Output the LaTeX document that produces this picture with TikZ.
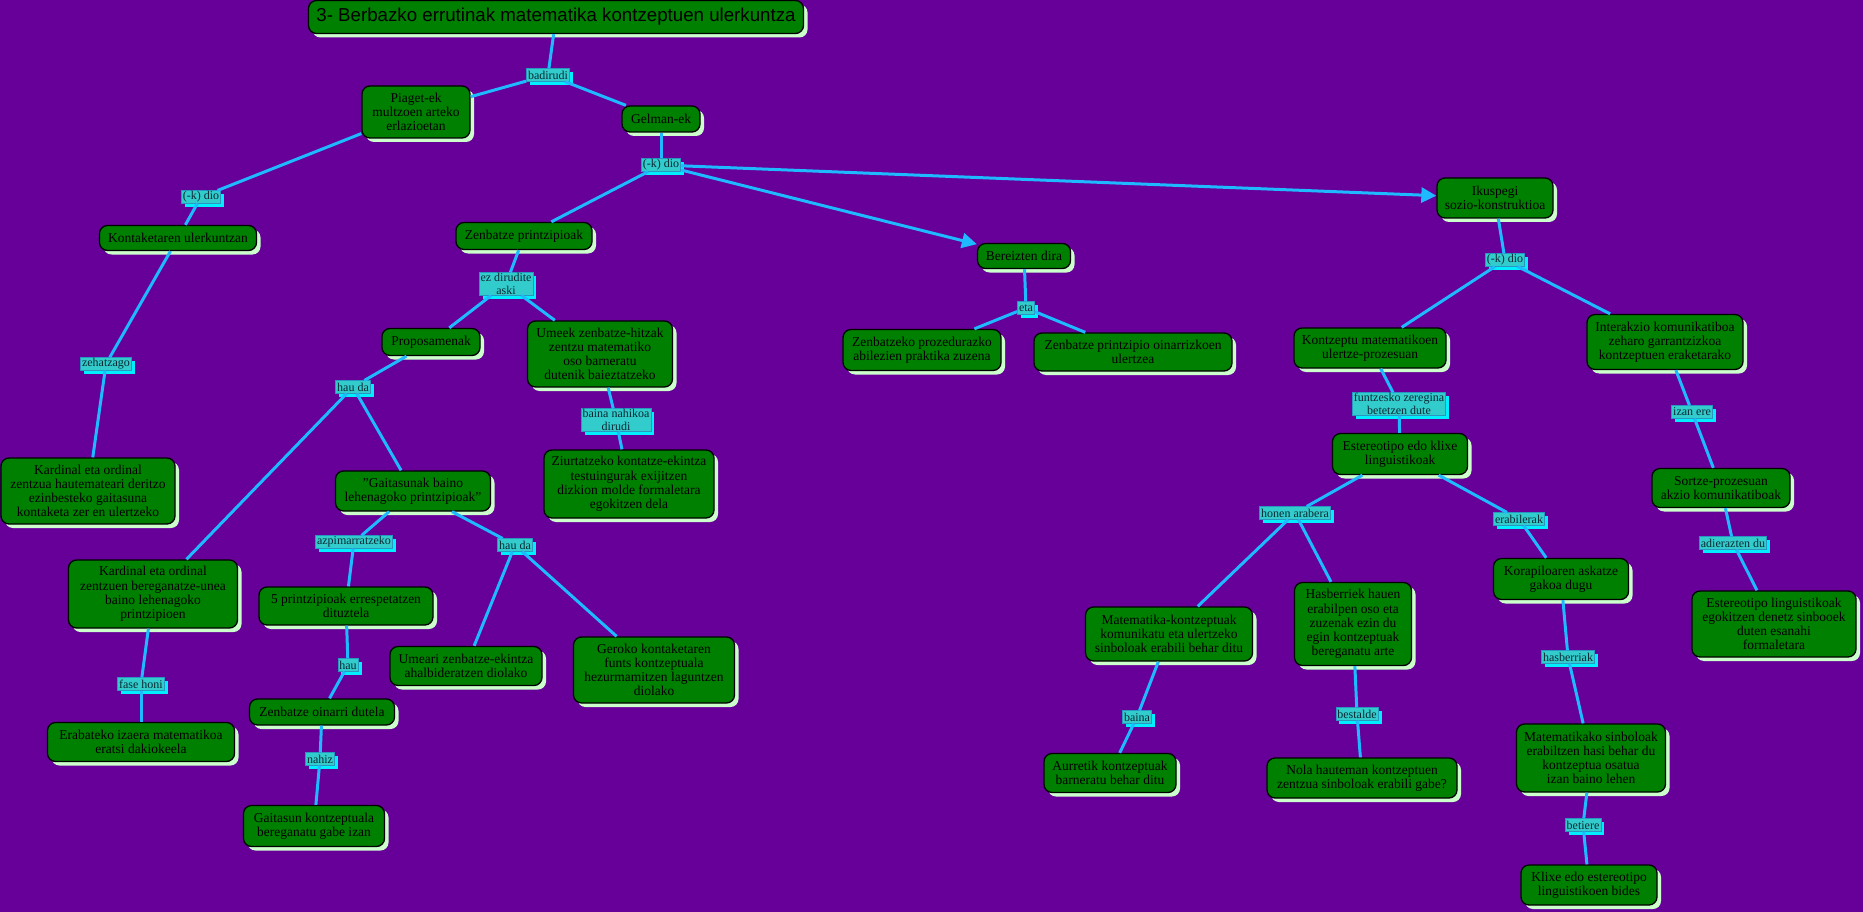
\documentclass[tikz,border=0pt]{standalone}
\usepackage{fontspec}
\setmainfont{Liberation Serif}
\setsansfont{Liberation Sans}
\usepackage{tikz}
\usetikzlibrary{arrows.meta}
\usetikzlibrary{shadows}
\definecolor{bgpurple}{RGB}{102,0,153}
\definecolor{boxgreen}{RGB}{0,128,0}
\definecolor{boxshadow}{RGB}{204,255,204}
\definecolor{labelfill}{RGB}{51,204,204}
\definecolor{labelshadow}{RGB}{0,238,255}
\definecolor{labelborder}{RGB}{40,150,190}
\definecolor{labeltext}{RGB}{10,40,50}
\definecolor{linkblue}{RGB}{30,185,255}

\begin{document}
\begin{tikzpicture}[
    x=1pt, y=-1pt,
    concept box/.style={draw=black, line width=1.3pt, fill=boxgreen, rounded corners=8pt,
        align=center, inner sep=2pt, text=black, font=\fontsize{13.5}{14.2}\selectfont,
        general shadow={fill=boxshadow, shadow xshift=4pt, shadow yshift=-4pt}},
    title box/.style={concept box, font=\sffamily\fontsize{18.7}{20}\selectfont},
    link label/.style={draw=labelborder, line width=0.6pt, fill=labelfill, align=center,
        inner xsep=1.5pt, inner ysep=0.5pt, minimum height=12.5pt, text=labeltext,
        font=\fontsize{12}{13}\selectfont,
        general shadow={fill=labelshadow, shadow xshift=3.5pt, shadow yshift=-3.5pt}},
    link line/.style={draw=linkblue, line width=3pt},
    arrow line/.style={link line, -{Triangle[length=15pt,width=15pt]}}
    ]

    \useasboundingbox (0,0) rectangle (1863,912);
    \fill[bgpurple] (0,0) rectangle (1863,912);

    % concepts, left part
    \node[title box, minimum width=495pt, minimum height=33pt] (title) at (556,17) {3- Berbazko errutinak matematika kontzeptuen ulerkuntza};
    \node[concept box, minimum width=108pt, minimum height=52pt] (piaget) at (416,112) {Piaget-ek\\multzoen arteko\\erlazioetan};
    \node[concept box, minimum width=78pt, minimum height=26pt] (gelman) at (661,119) {Gelman-ek};
    \node[concept box, minimum width=157pt, minimum height=25pt] (kontaketa) at (178,238) {Kontaketaren ulerkuntzan};
    \node[concept box, minimum width=136pt, minimum height=27pt] (printzipioak) at (524,236) {Zenbatze printzipioak};
    \node[concept box, minimum width=98pt, minimum height=27pt] (proposamenak) at (431,342) {Proposamenak};
    \node[concept box, minimum width=145pt, minimum height=66pt] (umeek) at (600,354) {Umeek zenbatze-hitzak\\zentzu matematiko\\oso barneratu\\dutenik baieztatzeko};
    \node[concept box, minimum width=174pt, minimum height=66pt] (kardinalA) at (88,491) {Kardinal eta ordinal\\zentzua hautemateari deritzo\\ezinbesteko gaitasuna\\kontaketa zer en ulertzeko};
    \node[concept box, minimum width=155pt, minimum height=40pt] (gaitasunak) at (413,491) {"Gaitasunak baino\\lehenagoko printzipioak"};
    \node[concept box, minimum width=170pt, minimum height=68pt] (ziurtatzeko) at (629,484) {Ziurtatzeko kontatze-ekintza\\testuingurak exijitzen\\dizkion molde formaletara\\egokitzen dela};
    \node[concept box, minimum width=169pt, minimum height=68pt] (kardinalB) at (153,594) {Kardinal eta ordinal\\zentzuen bereganatze-unea\\baino lehenagoko\\printzipioen};
    \node[concept box, minimum width=174pt, minimum height=38pt] (bost) at (346,606) {5 printzipioak errespetatzen\\dituztela};
    \node[concept box, minimum width=152pt, minimum height=39pt] (umeari) at (466,666) {Umeari zenbatze-ekintza\\ahalbideratzen diolako};
    \node[concept box, minimum width=161pt, minimum height=66pt] (geroko) at (654,670) {Geroko kontaketaren\\funts kontzeptuala\\hezurmamitzen laguntzen\\diolako};
    \node[concept box, minimum width=145pt, minimum height=26pt] (oinarri) at (322,712) {Zenbatze oinarri dutela};
    \node[concept box, minimum width=187pt, minimum height=39pt] (erabateko) at (141,742) {Erabateko izaera matematikoa\\eratsi dakiokeela};
    \node[concept box, minimum width=141pt, minimum height=41pt] (gaitasun) at (314,826) {Gaitasun kontzeptuala\\bereganatu gabe izan};

    % concepts, right part
    \node[concept box, minimum width=116pt, minimum height=40pt] (ikuspegi) at (1495,198) {Ikuspegi\\sozio-konstruktioa};
    \node[concept box, minimum width=93pt, minimum height=25pt] (bereizten) at (1024,256) {Bereizten dira};
    \node[concept box, minimum width=158pt, minimum height=41pt] (prozedura) at (922,350) {Zenbatzeko prozedurazko\\abilezien praktika zuzena};
    \node[concept box, minimum width=198pt, minimum height=38pt] (oinarrizko) at (1133,352) {Zenbatze printzipio oinarrizkoen\\ulertzea};
    \node[concept box, minimum width=152pt, minimum height=40pt] (ulertze) at (1370,348) {Kontzeptu matematikoen\\ulertze-prozesuan};
    \node[concept box, minimum width=156pt, minimum height=55pt] (interakzio) at (1665,342) {Interakzio komunikatiboa\\zeharo garrantzizkoa\\kontzeptuen eraketarako};
    \node[concept box, minimum width=135pt, minimum height=41pt] (klixeak) at (1400,454) {Estereotipo edo klixe\\linguistikoak};
    \node[concept box, minimum width=138pt, minimum height=39pt] (sortze) at (1721,488) {Sortze-prozesuan\\akzio komunikatiboak};
    \node[concept box, minimum width=135pt, minimum height=41pt] (korapilo) at (1561,579) {Korapiloaren askatze\\gakoa dugu};
    \node[concept box, minimum width=164pt, minimum height=66pt] (estereotipo) at (1774,624) {Estereotipo linguistikoak\\egokitzen denetz sinbooek\\duten esanahi\\formaletara};
    \node[concept box, minimum width=167pt, minimum height=54pt] (komunikatu) at (1169,634) {Matematika-kontzeptuak\\komunikatu eta ulertzeko\\sinboloak erabili behar ditu};
    \node[concept box, minimum width=117pt, minimum height=83pt] (hasberriek) at (1353,624) {Hasberriek hauen\\erabilpen oso eta\\zuzenak ezin du\\egin kontzeptuak\\bereganatu arte};
    \node[concept box, minimum width=149pt, minimum height=68pt] (sinboloak) at (1591,758) {Matematikako sinboloak\\erabiltzen hasi behar du\\kontzeptua osatua\\izan baino lehen};
    \node[concept box, minimum width=132pt, minimum height=39pt] (aurretik) at (1110,773) {Aurretik kontzeptuak\\barneratu behar ditu};
    \node[concept box, minimum width=190pt, minimum height=40pt] (nola) at (1362,778) {Nola hauteman kontzeptuen\\zentzua sinboloak erabili gabe?};
    \node[concept box, minimum width=136pt, minimum height=40pt] (bideak) at (1589,885) {Klixe edo estereotipo\\linguistikoen bides};

    % link labels
    \node[link label] (badirudi) at (548,75) {badirudi};
    \node[link label] (dioA) at (201,197) {(-k) dio};
    \node[link label] (dioB) at (661,165) {(-k) dio};
    \node[link label] (dioC) at (1505,260) {(-k) dio};
    \node[link label] (ezdirudite) at (506,284) {ez dirudite\\aski};
    \node[link label] (zehatzago) at (106,364) {zehatzago};
    \node[link label] (haudaA) at (353,387) {hau da};
    \node[link label] (nahikoa) at (616,420) {baina nahikoa\\dirudi};
    \node[link label] (azpimarra) at (354,542) {azpimarratzeko};
    \node[link label] (haudaB) at (515,545) {hau da};
    \node[link label] (hau) at (348,665) {hau};
    \node[link label] (fasehoni) at (141,684) {fase honi};
    \node[link label] (nahiz) at (320,759) {nahiz};
    \node[link label] (eta) at (1026,308) {eta};
    \node[link label] (funtzesko) at (1399,404) {funtzesko zeregina\\betetzen dute};
    \node[link label] (izanere) at (1692,412) {izan ere};
    \node[link label] (arabera) at (1295,513) {honen arabera};
    \node[link label] (erabilerak) at (1519,519) {erabilerak};
    \node[link label] (adierazten) at (1733,543) {adierazten du};
    \node[link label] (hasberriak) at (1568,657) {hasberriak};
    \node[link label] (baina) at (1137,717) {baina};
    \node[link label] (bestalde) at (1357,714) {bestalde};
    \node[link label] (betiere) at (1583,825) {betiere};

    % links, left part
    \draw[link line] (title) -- (badirudi);
    \draw[link line] (badirudi) -- (piaget);
    \draw[link line] (badirudi) -- (gelman);
    \draw[link line] (piaget) -- (dioA);
    \draw[link line] (dioA) -- (kontaketa);
    \draw[link line] (kontaketa) -- (zehatzago);
    \draw[link line] (zehatzago) -- (kardinalA);
    \draw[link line] (gelman) -- (dioB);
    \draw[link line] (dioB) -- (printzipioak);
    \draw[link line] (printzipioak) -- (ezdirudite);
    \draw[link line] (ezdirudite) -- (proposamenak);
    \draw[link line] (ezdirudite) -- (umeek);
    \draw[link line] (umeek) -- (nahikoa);
    \draw[link line] (nahikoa) -- (ziurtatzeko);
    \draw[link line] (proposamenak) -- (haudaA);
    \draw[link line] (haudaA) -- (kardinalB);
    \draw[link line] (haudaA) -- (gaitasunak);
    \draw[link line] (kardinalB) -- (fasehoni);
    \draw[link line] (fasehoni) -- (erabateko);
    \draw[link line] (gaitasunak) -- (azpimarra);
    \draw[link line] (gaitasunak) -- (haudaB);
    \draw[link line] (azpimarra) -- (bost);
    \draw[link line] (haudaB) -- (umeari);
    \draw[link line] (haudaB) -- (geroko);
    \draw[link line] (bost) -- (hau);
    \draw[link line] (hau) -- (oinarri);
    \draw[link line] (oinarri) -- (nahiz);
    \draw[link line] (nahiz) -- (gaitasun);
    % links, right part
    \draw[arrow line] (dioB) -- (bereizten);
    \draw[arrow line] (dioB) -- (ikuspegi);
    \draw[link line] (bereizten) -- (eta);
    \draw[link line] (eta) -- (prozedura);
    \draw[link line] (eta) -- (oinarrizko);
    \draw[link line] (ikuspegi) -- (dioC);
    \draw[link line] (dioC) -- (ulertze);
    \draw[link line] (dioC) -- (interakzio);
    \draw[link line] (ulertze) -- (funtzesko);
    \draw[link line] (funtzesko) -- (klixeak);
    \draw[link line] (klixeak) -- (arabera);
    \draw[link line] (klixeak) -- (erabilerak);
    \draw[link line] (arabera) -- (komunikatu);
    \draw[link line] (arabera) -- (hasberriek);
    \draw[link line] (komunikatu) -- (baina);
    \draw[link line] (baina) -- (aurretik);
    \draw[link line] (hasberriek) -- (bestalde);
    \draw[link line] (bestalde) -- (nola);
    \draw[link line] (erabilerak) -- (korapilo);
    \draw[link line] (korapilo) -- (hasberriak);
    \draw[link line] (hasberriak) -- (sinboloak);
    \draw[link line] (sinboloak) -- (betiere);
    \draw[link line] (betiere) -- (bideak);
    \draw[link line] (interakzio) -- (izanere);
    \draw[link line] (izanere) -- (sortze);
    \draw[link line] (sortze) -- (adierazten);
    \draw[link line] (adierazten) -- (estereotipo);
\end{tikzpicture}
\end{document}
